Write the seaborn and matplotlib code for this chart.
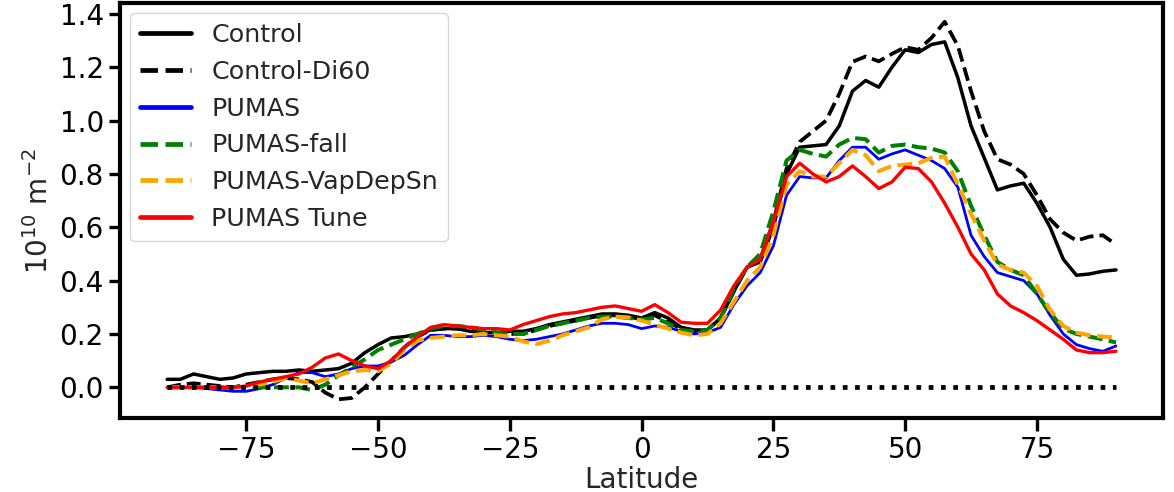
import numpy as np
import pandas as pd
import matplotlib
matplotlib.use("Agg")
import matplotlib.pyplot as plt
import seaborn as sns

# Zonal-mean values, 10^10 m^-2, on a 2.5 degree latitude grid
latitude = np.arange(-90.0, 90.01, 2.5)

control = [
    0.03, 0.03, 0.05, 0.04, 0.03, 0.035, 0.05, 0.055, 0.06, 0.06,
    0.065, 0.06, 0.065, 0.07, 0.09, 0.13, 0.16, 0.185, 0.19, 0.20,
    0.215, 0.22, 0.22, 0.21, 0.205, 0.205, 0.21, 0.21, 0.22, 0.235,
    0.245, 0.255, 0.265, 0.275, 0.275, 0.27, 0.26, 0.28, 0.26, 0.225,
    0.215, 0.215, 0.26, 0.36, 0.45, 0.47, 0.60, 0.80, 0.90, 0.905,
    0.91, 0.98, 1.11, 1.15, 1.125, 1.20, 1.265, 1.255, 1.285, 1.295,
    1.16, 0.98, 0.86, 0.74, 0.755, 0.765, 0.69, 0.60, 0.48, 0.42,
    0.425, 0.435, 0.44,
]

control_di60 = [
    0.0, 0.01, 0.015, 0.01, 0.005, 0.0, 0.01, 0.02, 0.03, 0.035,
    0.03, 0.02, -0.02, -0.045, -0.04, 0.0, 0.05, 0.10, 0.15, 0.19,
    0.215, 0.22, 0.22, 0.215, 0.21, 0.205, 0.20, 0.20, 0.215, 0.23,
    0.24, 0.25, 0.26, 0.27, 0.27, 0.265, 0.255, 0.27, 0.245, 0.22,
    0.21, 0.215, 0.26, 0.36, 0.45, 0.48, 0.62, 0.82, 0.92, 0.96,
    1.00, 1.10, 1.22, 1.24, 1.222, 1.25, 1.275, 1.265, 1.31, 1.37,
    1.28, 1.11, 0.96, 0.855, 0.835, 0.80, 0.72, 0.63, 0.58, 0.55,
    0.565, 0.57, 0.535,
]

pumas = [
    0.0, 0.0, 0.0, -0.005, -0.01, -0.015, -0.015, -0.005, 0.01, 0.035,
    0.055, 0.055, 0.04, 0.05, 0.07, 0.08, 0.08, 0.095, 0.12, 0.16,
    0.195, 0.195, 0.19, 0.19, 0.195, 0.19, 0.18, 0.175, 0.18, 0.19,
    0.20, 0.215, 0.23, 0.24, 0.24, 0.235, 0.22, 0.23, 0.225, 0.21,
    0.20, 0.205, 0.225, 0.31, 0.38, 0.43, 0.53, 0.72, 0.79, 0.785,
    0.785, 0.85, 0.90, 0.90, 0.855, 0.875, 0.89, 0.87, 0.85, 0.82,
    0.75, 0.57, 0.49, 0.43, 0.415, 0.40, 0.35, 0.27, 0.20, 0.16,
    0.145, 0.135, 0.155,
]

pumas_fall = [
    0.0, 0.0, 0.0, 0.0, 0.0, 0.0, 0.0, 0.0, 0.0, 0.0,
    0.0, -0.01, 0.01, 0.045, 0.075, 0.105, 0.14, 0.16, 0.18, 0.20,
    0.22, 0.23, 0.23, 0.225, 0.215, 0.205, 0.20, 0.20, 0.215, 0.23,
    0.24, 0.25, 0.26, 0.265, 0.265, 0.26, 0.255, 0.26, 0.24, 0.215,
    0.21, 0.215, 0.26, 0.37, 0.45, 0.50, 0.66, 0.85, 0.89, 0.875,
    0.865, 0.91, 0.935, 0.93, 0.88, 0.905, 0.91, 0.90, 0.895, 0.88,
    0.81, 0.68, 0.57, 0.47, 0.44, 0.42, 0.35, 0.28, 0.22, 0.20,
    0.19, 0.18, 0.168,
]

pumas_vapdepsn = [
    0.0, 0.0, 0.0, 0.0, 0.0, 0.0, 0.0, 0.01, 0.02, 0.035,
    0.025, 0.015, 0.03, 0.045, 0.06, 0.065, 0.06, 0.09, 0.14, 0.175,
    0.185, 0.19, 0.195, 0.195, 0.20, 0.195, 0.19, 0.172, 0.162, 0.175,
    0.195, 0.21, 0.225, 0.255, 0.265, 0.262, 0.25, 0.235, 0.22, 0.205,
    0.195, 0.20, 0.24, 0.32, 0.40, 0.45, 0.57, 0.76, 0.81, 0.79,
    0.79, 0.84, 0.89, 0.87, 0.81, 0.83, 0.835, 0.84, 0.86, 0.865,
    0.76, 0.65, 0.55, 0.46, 0.44, 0.43, 0.38, 0.29, 0.23, 0.205,
    0.195, 0.19, 0.187,
]

pumas_tune = [
    0.0, 0.0, 0.0, 0.0, 0.0, 0.0, 0.005, 0.02, 0.03, 0.04,
    0.05, 0.075, 0.11, 0.125, 0.10, 0.08, 0.07, 0.10, 0.15, 0.19,
    0.225, 0.235, 0.23, 0.225, 0.22, 0.22, 0.215, 0.235, 0.25, 0.265,
    0.275, 0.28, 0.29, 0.30, 0.305, 0.295, 0.285, 0.31, 0.28, 0.244,
    0.24, 0.24, 0.29, 0.38, 0.45, 0.48, 0.62, 0.79, 0.84, 0.80,
    0.77, 0.79, 0.83, 0.79, 0.745, 0.77, 0.825, 0.82, 0.77, 0.69,
    0.60, 0.50, 0.44, 0.35, 0.305, 0.28, 0.25, 0.215, 0.18, 0.14,
    0.13, 0.13, 0.135,
]

series_names = ["Control", "Control-Di60", "PUMAS", "PUMAS-fall",
                "PUMAS-VapDepSn", "PUMAS Tune"]
series_values = [control, control_di60, pumas, pumas_fall,
                 pumas_vapdepsn, pumas_tune]

# Line appearance for each experiment
line_styles = {
    "Control":        dict(color="black",  linestyle="-",  lw=2.5),
    "Control-Di60":   dict(color="black",  linestyle="--", lw=2.7),
    "PUMAS":          dict(color="blue",   linestyle="-",  lw=2.0),
    "PUMAS-fall":     dict(color="green",  linestyle="--", lw=2.9),
    "PUMAS-VapDepSn": dict(color="orange", linestyle="--", lw=2.9),
    "PUMAS Tune":     dict(color="red",    linestyle="-",  lw=2.4),
}

sns.set_theme(style="ticks")
plt.rcParams["font.family"] = ["DejaVu Sans"]
plt.rcParams["axes.linewidth"] = 3.0
plt.rcParams["xtick.major.size"] = 9
plt.rcParams["ytick.major.size"] = 8
plt.rcParams["xtick.major.width"] = 2.4
plt.rcParams["ytick.major.width"] = 2.4
plt.rcParams["xtick.labelsize"] = 20
plt.rcParams["ytick.labelsize"] = 20
plt.rcParams["axes.edgecolor"] = "black"
plt.rcParams["xtick.color"] = "black"
plt.rcParams["ytick.color"] = "black"

fig = plt.figure(figsize=(11.74, 4.92), dpi=100)
ax = fig.add_axes([0.102, 0.150, 0.889, 0.844])

for name, vals in zip(series_names, series_values):
    df = pd.DataFrame({"Latitude": latitude, "value": vals})
    sns.lineplot(data=df, x="Latitude", y="value", ax=ax, label=name,
                 **line_styles[name])

# Zero reference line
zero_df = pd.DataFrame({"Latitude": latitude, "value": np.zeros_like(latitude)})
sns.lineplot(data=zero_df, x="Latitude", y="value", ax=ax, color="black",
             lw=3.4, dashes=False)
ax.lines[-1].set_dashes((1.0, 1.6))

ax.set_xticks([-75, -50, -25, 0, 25, 50, 75])
ax.set_yticks([0.0, 0.2, 0.4, 0.6, 0.8, 1.0, 1.2, 1.4])
ax.yaxis.set_major_formatter(matplotlib.ticker.FormatStrFormatter("%.1f"))
ax.set_xlabel("Latitude", fontsize=20, labelpad=2)
ax.set_ylabel(r"10$^{10}$ m$^{-2}$", fontsize=20, labelpad=4)

handles, labels = ax.get_legend_handles_labels()
leg = ax.legend(handles[:6], labels[:6], loc="upper left", fontsize=18.3,
                frameon=True, fancybox=True, edgecolor="0.8",
                labelspacing=0.5, borderaxespad=0.4)
for line in leg.get_lines():
    line.set_linewidth(3.4)

fig.savefig("out.png", dpi=100)
